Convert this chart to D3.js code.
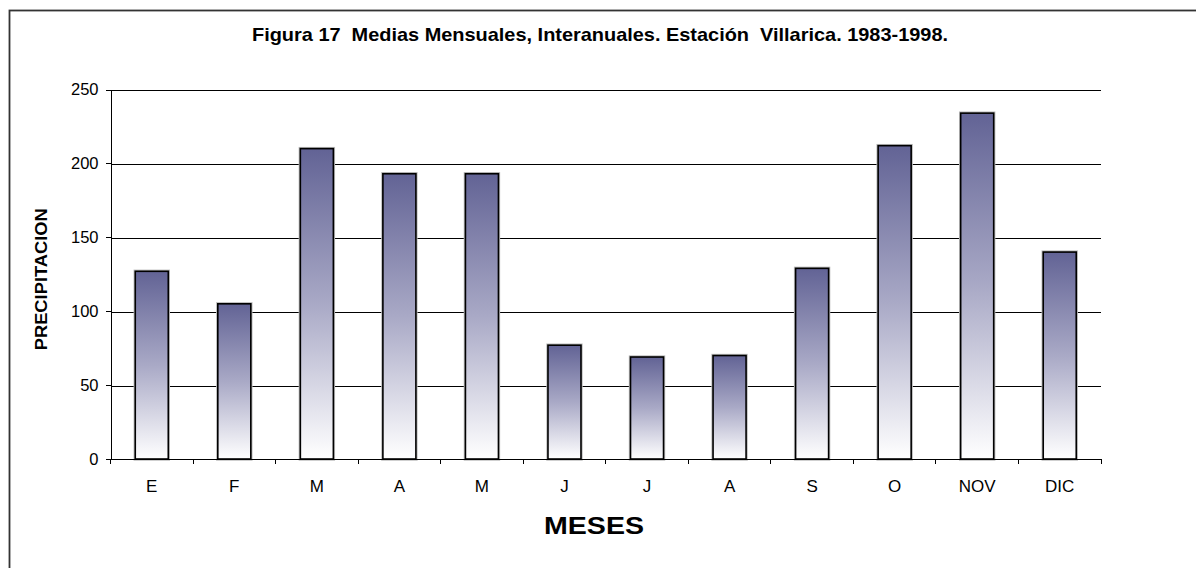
<!DOCTYPE html>
<meta charset="utf-8">
<style>
body { margin: 0; background: #fff; }
svg { display: block; font-family: "Liberation Sans", Arial, sans-serif; }
.bar { stroke: #000; stroke-width: 1.6px; }
.grid line { stroke: #000; stroke-width: 1px; shape-rendering: crispEdges; }
.axis path, .axis line { stroke: #000; shape-rendering: crispEdges; }
.axis text { fill: #000; }
</style>
<body>
<svg width="1196" height="568"></svg>
<script src="https://d3js.org/d3.v7.min.js"></script>
<script>

var months = ["E", "F", "M", "A", "M", "J", "J", "A", "S", "O", "NOV", "DIC"];
var precip = [127, 105, 210, 193, 193, 77, 69, 70, 129, 212, 234, 140];
var yTicks = [0, 50, 100, 150, 200, 250];

var titleText = "Figura 17  Medias Mensuales, Interanuales. Estación  Villarica. 1983-1998.";

var margin = {top: 89.5, right: 95, bottom: 109, left: 110.5};
var svg = d3.select("svg");
var width = 1196 - margin.left - margin.right;
var height = 568 - margin.top - margin.bottom;

// index keys so the repeated month letters get their own band
var keys = months.map(function(d, i) { return i; });

var x = d3.scaleBand()
    .domain(keys)
    .range([0, width])
    .paddingInner(0.6)
    .paddingOuter(0.3);
var xCat = d3.scaleBand()
    .domain(keys)
    .range([0, width]);
var y = d3.scaleLinear()
    .domain([0, 250])
    .range([height, 0]);

// outer frame (runs off the right and bottom edge)
svg.append("rect")
    .attr("x", 9.5).attr("y", 10.5)
    .attr("width", 1200).attr("height", 580)
    .attr("fill", "none")
    .attr("stroke", "#333")
    .attr("stroke-width", 1.8);

var defs = svg.append("defs");
var grad = defs.append("linearGradient")
    .attr("id", "barGrad")
    .attr("x1", 0).attr("y1", 0).attr("x2", 0).attr("y2", 1);
grad.append("stop").attr("offset", "0%").attr("stop-color", "#626395");
grad.append("stop").attr("offset", "50%").attr("stop-color", "#a9a9c6");
grad.append("stop").attr("offset", "100%").attr("stop-color", "#ffffff");

var g = svg.append("g")
    .attr("transform", "translate(" + margin.left + "," + margin.top + ")");

// gridlines
g.append("g")
    .attr("class", "grid")
    .selectAll("line")
    .data(yTicks.filter(function(d) { return d > 0; }))
    .enter().append("line")
    .attr("x1", 0).attr("x2", width)
    .attr("y1", function(d) { return Math.round(y(d)) + 0.5; })
    .attr("y2", function(d) { return Math.round(y(d)) + 0.5; });

// bars: soft grey halo then the bar itself
g.append("g").selectAll("rect")
    .data(precip)
    .enter().append("rect")
    .attr("x", function(d, i) { return x(i); })
    .attr("y", function(d) { return y(d); })
    .attr("width", x.bandwidth())
    .attr("height", function(d) { return height - y(d); })
    .attr("fill", "none")
    .attr("stroke", "#bbb")
    .attr("stroke-width", 3.4);

g.append("g").selectAll("rect")
    .data(precip)
    .enter().append("rect")
    .attr("class", "bar")
    .attr("x", function(d, i) { return x(i); })
    .attr("y", function(d) { return y(d); })
    .attr("width", x.bandwidth())
    .attr("height", function(d) { return height - y(d); })
    .attr("fill", "url(#barGrad)");

// y axis
var yAxis = g.append("g")
    .attr("class", "axis")
    .call(d3.axisLeft(y)
        .tickValues(yTicks)
        .tickSize(5)
        .tickPadding(7)
        .tickSizeOuter(0));
yAxis.selectAll("text")
    .style("font-size", "16.5px")
    .attr("font-family", null);

// x axis: ticks on the category boundaries, labels in the middle
var xAxis = g.append("g")
    .attr("class", "axis")
    .attr("transform", "translate(0," + height + ")");
xAxis.append("line")
    .attr("x1", 0).attr("x2", width)
    .attr("y1", 0).attr("y2", 0);
xAxis.selectAll(".xtick")
    .data(keys.concat([keys.length]))
    .enter().append("line")
    .attr("class", "xtick")
    .attr("x1", function(d) { return d < keys.length ? xCat(d) : width; })
    .attr("x2", function(d) { return d < keys.length ? xCat(d) : width; })
    .attr("y1", 0).attr("y2", 5);
xAxis.selectAll(".xlab")
    .data(keys)
    .enter().append("text")
    .attr("class", "xlab")
    .attr("x", function(d) { return xCat(d) + xCat.bandwidth() / 2; })
    .attr("y", 32.5)
    .attr("text-anchor", "middle")
    .style("font-size", "17px")
    .text(function(d) { return months[d]; });

// titles
svg.append("text")
    .attr("x", 600)
    .attr("y", 41)
    .attr("text-anchor", "middle")
    .attr("textLength", 696)
    .attr("lengthAdjust", "spacingAndGlyphs")
    .style("white-space", "pre")
    .style("font-size", "18.5px")
    .style("font-weight", "bold")
    .text(titleText);

svg.append("text")
    .attr("x", 594)
    .attr("y", 534)
    .attr("text-anchor", "middle")
    .attr("textLength", 100)
    .attr("lengthAdjust", "spacingAndGlyphs")
    .style("font-size", "23px")
    .style("font-weight", "bold")
    .text("MESES");

svg.append("text")
    .attr("transform", "translate(47," + (margin.top + height / 2 + 5) + ") rotate(-90)")
    .attr("text-anchor", "middle")
    .attr("textLength", 142)
    .attr("lengthAdjust", "spacingAndGlyphs")
    .style("font-size", "17px")
    .style("font-weight", "bold")
    .text("PRECIPITACION");

</script>
</body>
